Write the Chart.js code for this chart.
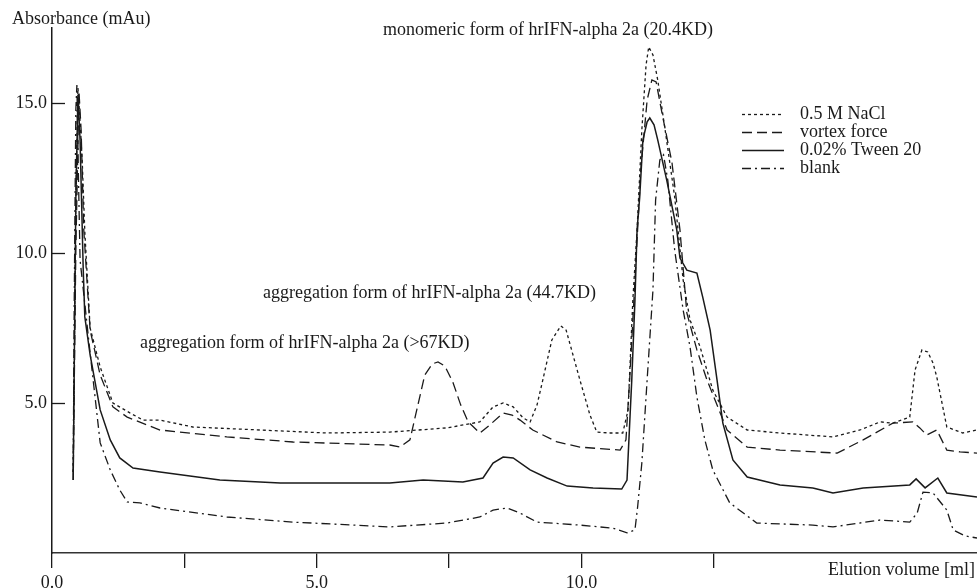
<!DOCTYPE html>
<html>
<head>
<meta charset="utf-8">
<script src="https://cdn.jsdelivr.net/npm/chart.js@4.4.1/dist/chart.umd.min.js"></script>
<style>
  html, body { margin: 0; padding: 0; background: #fff; }
  #wrap { width: 977px; height: 588px; }
</style>
</head>
<body>
<div id="wrap"><canvas id="chrom" width="977" height="588"></canvas></div>
<script>
// elution volume (ml) / absorbance (mAu) for each run
const naclMl  = [0.40, 0.45, 0.49, 0.53, 0.57, 0.62, 0.72, 0.91, 1.15, 1.47, 1.72, 2.04, 2.66, 3.93, 5.19, 6.38, 7.46, 8.08, 8.33, 8.52, 8.71, 8.90, 9.03, 9.16, 9.27, 9.44, 9.61, 9.71, 9.84, 9.97, 10.16, 10.29, 10.54, 10.78, 10.88, 10.97, 11.05, 11.14, 11.22, 11.27, 11.35, 11.44, 11.58, 11.76, 11.92, 12.05, 12.24, 12.48, 12.75, 13.13, 13.75, 14.75, 15.26, 15.64, 15.88, 16.20, 16.30, 16.43, 16.54, 16.64, 16.71, 16.90, 17.20, 17.47];
const naclAbs = [2.7, 11.8, 15.5, 14.4, 13.1, 10.7, 7.5, 6.2, 5.0, 4.67, 4.43, 4.43, 4.2, 4.1, 4.0, 4.03, 4.17, 4.37, 4.87, 5.0, 4.87, 4.5, 4.37, 4.93, 5.77, 7.1, 7.57, 7.43, 6.6, 5.77, 4.6, 4.03, 4.0, 4.0, 4.77, 8.43, 10.77, 14.1, 16.27, 16.87, 16.6, 15.77, 14.1, 11.87, 9.1, 7.77, 6.87, 5.43, 4.53, 4.1, 4.0, 3.87, 4.1, 4.37, 4.33, 4.53, 6.1, 6.77, 6.7, 6.33, 5.87, 4.2, 4.0, 4.1];

const vortexMl  = [0.40, 0.45, 0.51, 0.55, 0.60, 0.72, 0.91, 1.15, 1.42, 2.04, 3.30, 4.55, 6.38, 6.57, 6.76, 6.91, 7.04, 7.18, 7.29, 7.42, 7.57, 7.72, 7.86, 8.08, 8.27, 8.52, 8.69, 8.84, 9.08, 9.54, 9.97, 10.73, 10.84, 10.91, 11.01, 11.12, 11.24, 11.33, 11.41, 11.52, 11.71, 11.86, 11.99, 12.18, 12.37, 12.75, 13.13, 13.75, 14.83, 15.32, 15.88, 16.26, 16.39, 16.52, 16.71, 16.90, 17.15, 17.47];
const vortexAbs = [2.43, 10.1, 15.37, 14.1, 10.77, 7.43, 5.93, 4.87, 4.53, 4.1, 3.87, 3.7, 3.6, 3.53, 3.77, 4.93, 5.93, 6.3, 6.37, 6.23, 5.7, 4.93, 4.37, 4.0, 4.27, 4.67, 4.6, 4.43, 4.1, 3.7, 3.53, 3.43, 3.77, 5.77, 9.1, 12.77, 15.1, 15.77, 15.7, 14.67, 13.0, 10.77, 8.0, 6.77, 5.77, 4.1, 3.53, 3.43, 3.33, 3.77, 4.33, 4.37, 4.17, 3.93, 4.1, 3.43, 3.37, 3.33];

const tweenMl  = [0.40, 0.45, 0.49, 0.53, 0.59, 0.62, 0.72, 0.91, 1.10, 1.28, 1.53, 2.04, 3.17, 4.31, 6.38, 7.01, 7.76, 8.14, 8.33, 8.52, 8.71, 9.03, 9.35, 9.73, 10.22, 10.76, 10.86, 10.92, 10.95, 11.01, 11.05, 11.10, 11.16, 11.24, 11.29, 11.37, 11.44, 11.61, 11.80, 11.86, 11.99, 12.18, 12.29, 12.43, 12.56, 12.67, 12.86, 13.13, 13.75, 14.37, 14.75, 15.32, 16.20, 16.32, 16.49, 16.73, 16.90, 17.47];
const tweenAbs = [2.43, 11.77, 15.27, 13.77, 9.43, 7.87, 6.6, 4.77, 3.77, 3.17, 2.83, 2.7, 2.43, 2.33, 2.33, 2.43, 2.37, 2.5, 3.0, 3.2, 3.17, 2.77, 2.5, 2.23, 2.17, 2.13, 2.43, 4.67, 5.77, 8.43, 10.77, 11.87, 13.77, 14.37, 14.5, 14.27, 13.77, 12.43, 10.77, 9.83, 9.43, 9.33, 8.53, 7.43, 5.77, 4.33, 3.1, 2.53, 2.27, 2.17, 2.0, 2.17, 2.27, 2.47, 2.17, 2.5, 2.0, 1.87];

const blankMl  = [0.40, 0.42, 0.45, 0.47, 0.49, 0.53, 0.72, 0.91, 1.10, 1.28, 1.42, 1.66, 2.04, 3.30, 4.55, 6.38, 7.46, 8.08, 8.33, 8.59, 8.84, 9.16, 9.97, 10.59, 10.86, 11.01, 11.06, 11.14, 11.24, 11.35, 11.40, 11.48, 11.55, 11.63, 11.76, 11.92, 12.05, 12.18, 12.33, 12.48, 12.80, 13.31, 14.37, 14.75, 15.64, 16.20, 16.34, 16.45, 16.64, 16.90, 17.02, 17.24, 17.47];
const blankAbs = [2.7, 8.4, 14.77, 15.6, 13.4, 9.77, 6.67, 3.67, 2.77, 2.1, 1.7, 1.67, 1.5, 1.2, 1.03, 0.87, 1.0, 1.2, 1.43, 1.5, 1.33, 1.03, 0.93, 0.83, 0.67, 0.77, 1.53, 3.0, 5.77, 8.77, 11.77, 13.1, 13.27, 12.43, 10.1, 8.1, 6.87, 5.2, 3.77, 2.77, 1.67, 1.0, 0.93, 0.87, 1.1, 1.03, 1.33, 2.03, 2.0, 1.43, 0.77, 0.57, 0.5];

const seriesNames = ['0.5 M NaCl', 'vortex force', '0.02% Tween 20', 'blank'];
const xTicks = [0, 2.5, 5, 7.5, 10, 12.5];
const xLabelled = [0, 5, 10];
const yTicks = [5, 10, 15];

const peakNotes = [
  { text: 'monomeric form of hrIFN-alpha 2a (20.4KD)', x: 383, y: 30 },
  { text: 'aggregation form of hrIFN-alpha 2a (44.7KD)', x: 263, y: 293 },
  { text: 'aggregation form of hrIFN-alpha 2a (>67KD)', x: 140, y: 343 }
];

const FONT = '18px "Liberation Serif", "Times New Roman", serif';
const INK = '#1a1a1a';

function pts(xs, ys) {
  return xs.map((x, i) => ({ x: x, y: ys[i] }));
}

const styles = [
  { dash: [3, 3], width: 1.3 },
  { dash: [10, 5], width: 1.3 },
  { dash: [], width: 1.5 },
  { dash: [9, 4, 2, 4], width: 1.3 }
];
const series = [pts(naclMl, naclAbs), pts(vortexMl, vortexAbs), pts(tweenMl, tweenAbs), pts(blankMl, blankAbs)];

// text, inward y ticks and the dash-style legend
const decor = {
  id: 'decor',
  afterDraw(chart) {
    const ctx = chart.ctx;
    const yScale = chart.scales.y;
    const left = chart.chartArea.left;
    ctx.save();
    ctx.strokeStyle = INK;
    ctx.lineWidth = 1.3;
    yTicks.forEach(v => {
      const py = Math.round(yScale.getPixelForValue(v)) + 0.5;
      ctx.beginPath();
      ctx.moveTo(left, py);
      ctx.lineTo(left + 13, py);
      ctx.stroke();
    });

    ctx.fillStyle = INK;
    ctx.font = FONT;
    ctx.textBaseline = 'middle';
    ctx.textAlign = 'left';
    ctx.fillText('Absorbance (mAu)', 12, 19);
    peakNotes.forEach(n => ctx.fillText(n.text, n.x, n.y));
    ctx.textAlign = 'right';
    ctx.fillText('Elution volume [ml]', 975, 570);

    // legend
    ctx.textAlign = 'left';
    seriesNames.forEach((name, i) => {
      const ly = 114 + i * 18;
      ctx.beginPath();
      ctx.setLineDash(styles[i].dash);
      ctx.lineWidth = styles[i].width;
      ctx.moveTo(742, ly + 0.5);
      ctx.lineTo(784, ly + 0.5);
      ctx.stroke();
      ctx.setLineDash([]);
      ctx.fillText(name, 800, ly);
    });
    ctx.restore();
  }
};

new Chart(document.getElementById('chrom'), {
  type: 'line',
  data: {
    datasets: series.map((data, i) => ({
      label: seriesNames[i],
      data: data,
      borderColor: INK,
      borderWidth: styles[i].width,
      borderDash: styles[i].dash,
      pointRadius: 0,
      tension: 0,
      fill: false
    }))
  },
  options: {
    responsive: false,
    animation: false,
    layout: { padding: { top: 28, right: 0, left: 0, bottom: 0 } },
    plugins: { legend: { display: false }, tooltip: { enabled: false } },
    scales: {
      x: {
        type: 'linear',
        min: 0,
        max: 17.47,
        afterFit: s => { s.height = 35; },
        afterBuildTicks: s => { s.ticks = xTicks.map(v => ({ value: v })); },
        border: { display: true, color: '#333', width: 1.5 },
        grid: { drawOnChartArea: false, drawTicks: true, tickLength: 15, color: INK, lineWidth: 1.3 },
        ticks: {
          padding: 4,
          color: INK,
          font: { family: '"Liberation Serif", "Times New Roman", serif', size: 18 },
          maxRotation: 0,
          autoSkip: false,
          callback: v => xLabelled.includes(v) ? v.toFixed(1) : ''
        }
      },
      y: {
        type: 'linear',
        min: 0,
        max: 17.5,
        afterFit: s => { s.width = 52; },
        afterBuildTicks: s => { s.ticks = yTicks.map(v => ({ value: v })); },
        border: { display: true, color: INK, width: 1.5 },
        grid: { drawOnChartArea: false, drawTicks: false },
        ticks: {
          padding: 5,
          color: INK,
          font: { family: '"Liberation Serif", "Times New Roman", serif', size: 18 },
          callback: v => v.toFixed(1)
        }
      }
    }
  },
  plugins: [decor]
});
</script>
</body>
</html>
